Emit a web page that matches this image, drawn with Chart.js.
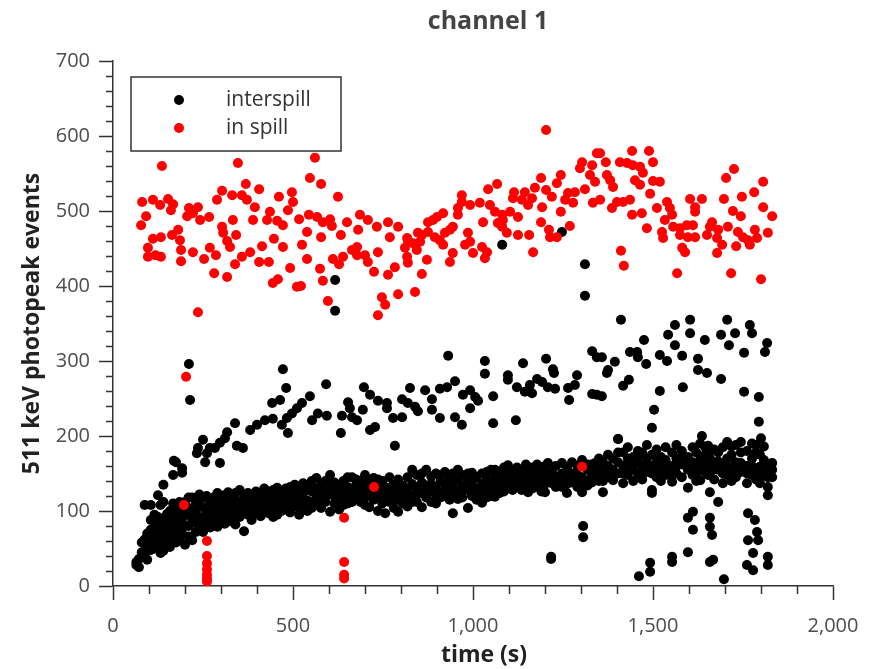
<!DOCTYPE html>
<html>
<head>
<meta charset="utf-8">
<script src="https://cdn.jsdelivr.net/npm/chart.js@4.4.1/dist/chart.umd.min.js"></script>
<style>
  html, body { margin: 0; padding: 0; background: #fff; }
  canvas { display: block; }
</style>
</head>
<body>
<canvas id="chart" width="876" height="669"></canvas>
<script>
// Axis ticks
const xTicks = [0, 500, 1000, 1500, 2000];
const yTicks = [0, 100, 200, 300, 400, 500, 600, 700];

// in spill: [time, events]
const inSpill = [
  [136,560],[347,564],[561,571],[547,544],[578,536],[369,536],[406,529],[303,527],[497,525],[625,519],
  [461,519],[81,512],[111,515],[153,516],[167,509],[131,508],[289,515],[331,521],[358,521],[372,515],
  [394,505],[500,512],[486,501],[92,493],[161,501],[211,504],[236,505],[206,493],[222,497],[242,488],
  [267,492],[78,481],[436,499],[428,488],[389,488],[456,487],[472,481],[517,489],[544,495],[567,492],
  [583,485],[603,489],[608,480],[650,485],[333,488],[303,479],[306,471],[342,468],[317,460],[325,452],
  [539,472],[578,465],[633,468],[447,463],[525,455],[472,452],[414,453],[111,463],[133,465],[164,468],
  [181,475],[186,461],[97,451],[97,439],[118,441],[133,439],[189,448],[189,433],[222,445],[253,436],
  [269,451],[286,441],[281,417],[317,412],[339,429],[358,439],[381,445],[406,432],[433,432],[492,424],
  [539,436],[575,423],[583,407],[611,436],[628,429],[639,439],[664,448],[444,404],[458,409],[511,399],
  [522,400],[597,380],[236,365],
  [1203,608],[1344,577],[1303,565],[1297,557],[1331,561],[1325,548],[1339,539],[1244,548],[1233,537],[1189,544],
  [1067,536],[1042,529],[1203,528],[1172,531],[1144,525],[1114,525],[1219,519],[1264,524],[1283,525],[1311,529],
  [1256,515],[1278,511],[1333,511],[1164,517],[1136,515],[1111,517],[1153,508],[1192,505],[1244,499],[969,521],
  [969,512],[958,504],[992,508],[1019,511],[1047,508],[1061,499],[1081,495],[1103,499],[1125,492],[958,495],
  [917,497],[900,492],[875,485],[889,488],[944,479],[936,475],[922,471],[1028,485],[1069,484],[1083,488],
  [1081,479],[1094,471],[1125,468],[1156,468],[1189,485],[1211,475],[1214,465],[1233,465],[1269,480],[1167,445],
  [986,471],[992,459],[978,455],[1000,444],[1025,452],[1039,445],[1033,437],[944,444],[936,432],[917,455],
  [908,461],[894,465],[872,435],[847,471],[853,459],[844,448],[833,457],[819,461],[811,451],[817,439],
  [819,431],[858,416],[839,392],[792,389],[783,425],[764,415],[725,419],[708,432],[700,441],[678,441],
  [678,452],[736,445],[769,465],[764,485],[792,479],[733,479],[686,495],[708,488],[681,475],[817,464],
  [875,472],[858,468],[747,385],[756,375],[736,361],
  [1442,580],[1489,580],[1500,565],[1408,565],[1428,564],[1444,561],[1464,559],[1369,565],[1353,577],[1372,548],
  [1381,541],[1389,532],[1353,515],[1450,541],[1464,535],[1472,551],[1500,540],[1519,539],[1492,523],[1400,512],
  [1417,512],[1436,515],[1386,504],[1442,495],[1469,497],[1511,504],[1539,512],[1547,504],[1553,495],[1533,488],
  [1483,477],[1525,472],[1528,464],[1556,479],[1575,477],[1603,516],[1636,516],[1617,505],[1617,499],[1594,481],
  [1611,481],[1575,468],[1597,465],[1617,465],[1581,451],[1589,445],[1567,417],[1650,468],[1664,485],[1678,464],
  [1678,444],[1692,455],[1658,479],[1681,475],[1708,479],[1697,516],[1703,544],[1725,556],[1722,500],[1744,493],
  [1747,519],[1781,525],[1806,539],[1806,505],[1831,493],[1783,475],[1819,471],[1736,472],[1750,465],[1764,461],
  [1769,455],[1789,464],[1731,453],[1717,417],[1800,409],[1411,447],[1419,427],
  [203,279],[197,108],[261,60],[261,40],[261,30],[261,22],[261,15],[261,10],[261,6],
  [642,91],[642,32],[642,15],[642,10],[725,132],[1303,159]
];

// interspill, upper population and stray points: [time, events]
const interspillHigh = [
  [211,296],[214,248],[472,289],[481,264],[592,269],[547,253],[442,244],[464,248],[525,244],[511,237],
  [497,230],[483,224],[553,221],[569,230],[594,227],[653,245],[658,237],[636,227],[664,225],[633,204],
  [422,221],[400,215],[381,208],[444,223],[469,215],[486,204],[339,217],[317,205],[311,197],[297,191],
  [283,184],[269,184],[250,195],[236,184],[233,177],[261,177],[256,165],[297,164],[361,184],[344,187],
  [169,167],[192,157],[931,307],[1033,300],[1033,283],[1139,297],[1203,303],[1222,289],[1225,284],[1331,313],
  [1344,305],[1289,281],[1283,268],[1264,264],[1267,248],[1097,281],[1097,275],[1122,265],[1144,259],[1164,257],
  [1158,268],[1178,276],[1192,272],[1208,265],[1228,263],[1331,256],[1344,255],[1056,253],[1056,217],[1119,221],
  [950,273],[928,265],[908,263],[867,261],[825,264],[803,249],[819,244],[839,239],[847,233],[886,249],
  [886,235],[908,224],[950,225],[969,215],[992,261],[972,255],[1006,252],[1014,247],[992,237],[697,265],
  [714,255],[736,247],[761,244],[761,237],[694,235],[678,221],[778,224],[803,225],[728,212],[714,208],
  [783,187],[1411,355],[1561,348],[1603,355],[1603,337],[1542,335],[1561,321],[1706,355],[1769,348],[1775,337],
  [1728,337],[1689,335],[1711,321],[1644,328],[1817,324],[1811,312],[1753,311],[1475,328],[1436,312],[1456,312],
  [1458,305],[1481,296],[1519,308],[1539,300],[1581,307],[1625,303],[1625,288],[1650,284],[1689,276],[1358,305],
  [1394,299],[1375,288],[1372,284],[1433,275],[1417,267],[1358,253],[1519,260],[1583,265],[1753,259],[1794,252],
  [1503,235],[1497,211],[1794,219],[1800,197],[1403,196],[1636,200],[1653,187],[1081,455],[1247,472],[1311,429],
  [1311,387],[617,408],[617,367]
];

// interspill, lower stray points: [time, events]
const interspillDrop = [
  [1306,80],[1306,65],[1217,39],[1217,36],[1611,99],[1597,91],[1611,75],[1658,91],[1658,79],[1664,68],
  [1764,97],[1783,88],[1789,72],[1764,61],[1792,61],[1778,44],[1761,28],[1778,21],[1819,39],[1819,28],
  [1597,45],[1553,39],[1553,32],[1667,35],[1658,32],[1492,31],[1492,19],[1461,13],[1697,9]
];

// interspill, main lower band: [time, [events at that time]]
const interspillBand = [
  [65,[28,32]],[72,[36,25]],[80,[45,58]],[88,[40,62,108]],[95,[52,70,35]],[105,[60,88,108,48,75]],
  [115,[65,78,50,95]],[125,[72,92,121,58,84]],[132,[55,80,108,44,68]],[140,[68,90,135,47,112]],[150,[75,96,60,85]],
  [158,[82,100,52,68]],[167,[70,92,110,148,62]],[175,[78,104,58,165,90]],[185,[85,98,62,74,112]],[192,[90,108,70,151,80]],
  [200,[80,112,55,96]],[210,[95,104,66,80,118]],[220,[88,118,61,100]],[230,[100,84,72,112]],[240,[92,110,76,122]],
  [250,[105,86,72,118]],[260,[98,120,80,88]],[270,[110,90,112,100,78]],[280,[102,118,84,95]],[290,[95,112,79,124]],
  [300,[108,120,88,98]],[310,[100,121,83,110]],[320,[112,94,86,125]],[330,[104,118,90,98]],[340,[115,96,82,124]],
  [352,[108,128,92,100]],[364,[118,100,73,110]],[375,[110,124,95,102]],[385,[102,120,88,112]],[397,[114,126,98,106]],
  [410,[108,122,93,115]],[420,[118,102,130,110]],[432,[112,126,97,105]],[445,[120,104,92,128]],[456,[114,131,95,104]],
  [468,[124,108,100,116]],[480,[116,130,102,122]],[492,[122,110,98,132]],[505,[128,115,135,106]],[517,[118,130,95,108]],
  [528,[124,137,106,116]],[540,[114,128,100,134]],[552,[126,112,140,104]],[565,[130,118,144,108]],[578,[120,134,104,112]],
  [590,[128,112,140,120]],[603,[122,148,99,132]],[615,[132,110,138,120]],[628,[118,135,102,126]],[640,[126,140,108,116]],
  [652,[120,132,145,110]],[664,[128,112,145,120]],[676,[118,136,142,126]],[688,[125,112,140,132]],[700,[130,118,148,108]],
  [712,[122,138,105,130]],[724,[128,115,144,122]],[736,[120,134,100,142]],[748,[126,140,110,118]],[756,[118,97,132,124]],
  [768,[130,112,145,122]],[780,[122,138,104,130]],[792,[126,99,142,115]],[805,[118,134,110,126]],[818,[128,145,106,118]],
  [831,[120,155,136,112]],[844,[130,112,148,122]],[858,[124,105,150,138]],[870,[134,118,155,126]],[884,[126,146,112,136]],
  [897,[132,110,150,122]],[910,[124,140,118,148]],[922,[136,120,152,128]],[935,[128,145,115,138]],[944,[97,134,150,122]],
  [958,[126,142,155,116]],[970,[134,118,148,126]],[986,[104,128,150,140]],[997,[138,151,120,128]],[1010,[130,145,115,122]],
  [1025,[111,136,150,124]],[1038,[128,142,152,118]],[1050,[120,138,155,130]],[1061,[119,146,155,132]],[1074,[132,150,140,124]],
  [1086,[126,145,158,136]],[1097,[132,161,148,140]],[1110,[138,152,128,146]],[1122,[144,132,158,150]],[1135,[140,155,128,148]],
  [1147,[135,150,162,142]],[1153,[125,145,136]],[1165,[140,158,130,150]],[1178,[148,134,162,140]],[1190,[138,155,126,146]],
  [1200,[125,145,160,136]],[1208,[164,140,152]],[1219,[137,152,145]],[1230,[146,160,132,140]],[1247,[164,140,150,132]],
  [1261,[124,145,158,136]],[1275,[138,150,165,144]],[1290,[132,148,160,140]],[1303,[125,145,168,136]],[1318,[140,155,134,162]],
  [1330,[150,162,138,144]],[1339,[164,145,152]],[1350,[140,158,170,150]],[1361,[125,150,165,140]],[1375,[145,160,175,152]],
  [1389,[141,155,170,148]],[1403,[150,165,196,178]],[1417,[137,160,178,150]],[1430,[148,170,185,160]],[1445,[155,140,172,164]],
  [1458,[165,150,180,172]],[1470,[142,160,178,152]],[1483,[152,170,188,162]],[1497,[124,128,160,175,150]],[1510,[145,165,182,156]],
  [1522,[155,172,140,164]],[1535,[148,168,185,158]],[1553,[139,160,178,150]],[1565,[150,170,188,160]],[1580,[145,162,180,172]],
  [1597,[131,155,172,164]],[1610,[148,165,185,158]],[1620,[160,178,140,150]],[1631,[141,168,190,156]],[1645,[152,175,162,185]],
  [1653,[160,148]],[1658,[125,150,170,180]],[1670,[142,165,182,156]],[1681,[112,155,178,166]],[1694,[137,160,185,150]],
  [1706,[148,170,192,160]],[1718,[155,175,140,186]],[1730,[145,165,188,156]],[1744,[152,178,192,164]],[1761,[137,160,180,150]],
  [1775,[148,170,190,160]],[1786,[155,178,142,188]],[1797,[137,159,175,150]],[1808,[148,168,186,160]],[1819,[132,121,158,145]],
  [1831,[164,145,155]]
];

const toPoint = p => ({ x: p[0], y: p[1] });

const interspillPoints = interspillBand
  .flatMap(col => col[1].map(v => ({ x: col[0], y: v })))
  .concat(interspillHigh.map(toPoint), interspillDrop.map(toPoint));
const inSpillPoints = inSpill.map(toPoint);

const FONT = "'Open Sans', 'DejaVu Sans', sans-serif";

// Title, x-axis title, boxed legend and minor ticks
const decorations = {
  id: 'decorations',
  afterDraw(chart) {
    const { ctx, chartArea, scales } = chart;
    ctx.save();

    // minor ticks
    ctx.strokeStyle = '#333';
    ctx.lineWidth = 1.5;
    ctx.beginPath();
    for (let v = 0; v <= scales.x.max; v += 100) {
      if (v % 500 === 0) continue;
      const px = Math.round(scales.x.getPixelForValue(v)) + 0.5;
      ctx.moveTo(px, chartArea.bottom);
      ctx.lineTo(px, chartArea.bottom + 8);
    }
    for (let v = 0; v <= scales.y.max; v += 20) {
      if (v % 100 === 0) continue;
      const py = Math.round(scales.y.getPixelForValue(v)) + 0.5;
      ctx.moveTo(chartArea.left - 7, py);
      ctx.lineTo(chartArea.left, py);
    }
    ctx.stroke();

    // title
    ctx.fillStyle = '#444';
    ctx.font = "bold 25px " + FONT;
    ctx.textAlign = 'center';
    ctx.textBaseline = 'middle';
    ctx.fillText('channel 1', 488, 22);

    // x axis title
    ctx.fillStyle = '#222';
    ctx.font = "bold 23px " + FONT;
    ctx.fillText('time (s)', 484, 655);

    // legend
    const bx = 131, by = 77, bw = 210, bh = 74;
    ctx.fillStyle = '#fff';
    ctx.fillRect(bx, by, bw, bh);
    ctx.strokeStyle = '#333';
    ctx.lineWidth = 1.5;
    ctx.strokeRect(bx, by, bw, bh);
    ctx.font = "21px " + FONT;
    ctx.textAlign = 'left';
    chart.data.datasets.forEach((ds, i) => {
      const cy = 100 + i * 28;
      ctx.fillStyle = ds.backgroundColor;
      ctx.beginPath();
      ctx.arc(179, cy, 5, 0, Math.PI * 2);
      ctx.fill();
      ctx.fillStyle = '#333';
      ctx.fillText(ds.label, 226, cy);
    });
    ctx.restore();
  }
};

new Chart(document.getElementById('chart'), {
  type: 'scatter',
  data: {
    datasets: [
      {
        label: 'interspill',
        data: interspillPoints,
        backgroundColor: '#000000',
        borderWidth: 0,
        pointRadius: 5,
        order: 2
      },
      {
        label: 'in spill',
        data: inSpillPoints,
        backgroundColor: '#ff0000',
        borderWidth: 0,
        pointRadius: 5,
        order: 1
      }
    ]
  },
  options: {
    responsive: false,
    animation: false,
    events: [],
    layout: { padding: { top: 61, right: 43, left: 0, bottom: 0 } },
    plugins: {
      legend: { display: false },
      tooltip: { enabled: false },
      title: { display: false }
    },
    scales: {
      x: {
        type: 'linear',
        min: xTicks[0],
        max: xTicks[xTicks.length - 1],
        afterBuildTicks: s => { s.ticks = xTicks.map(v => ({ value: v })); },
        afterFit: s => { s.height = 83; },
        ticks: {
          autoSkip: false,
          maxRotation: 0,
          padding: 14,
          color: '#4d4d4d',
          font: { family: FONT, size: 20 },
          callback: v => v.toLocaleString('en-US')
        },
        grid: { drawOnChartArea: false, drawTicks: true, tickLength: 14, tickColor: '#333', tickWidth: 1.5 },
        border: { display: true, color: '#333', width: 1.5 },
        title: { display: false }
      },
      y: {
        type: 'linear',
        min: yTicks[0],
        max: yTicks[yTicks.length - 1],
        afterBuildTicks: s => { s.ticks = yTicks.map(v => ({ value: v })); },
        afterFit: s => { s.width = 113; },
        ticks: {
          autoSkip: false,
          padding: 9,
          color: '#4d4d4d',
          font: { family: FONT, size: 20 }
        },
        grid: { drawOnChartArea: false, drawTicks: true, tickLength: 14, tickColor: '#333', tickWidth: 1.5 },
        border: { display: true, color: '#333', width: 1.5 },
        title: {
          display: true,
          text: '511 keV photopeak events',
          color: '#222',
          font: { family: FONT, size: 23, weight: 'bold' },
          padding: { top: 19, bottom: 0 }
        }
      }
    }
  },
  plugins: [decorations]
});
</script>
</body>
</html>
